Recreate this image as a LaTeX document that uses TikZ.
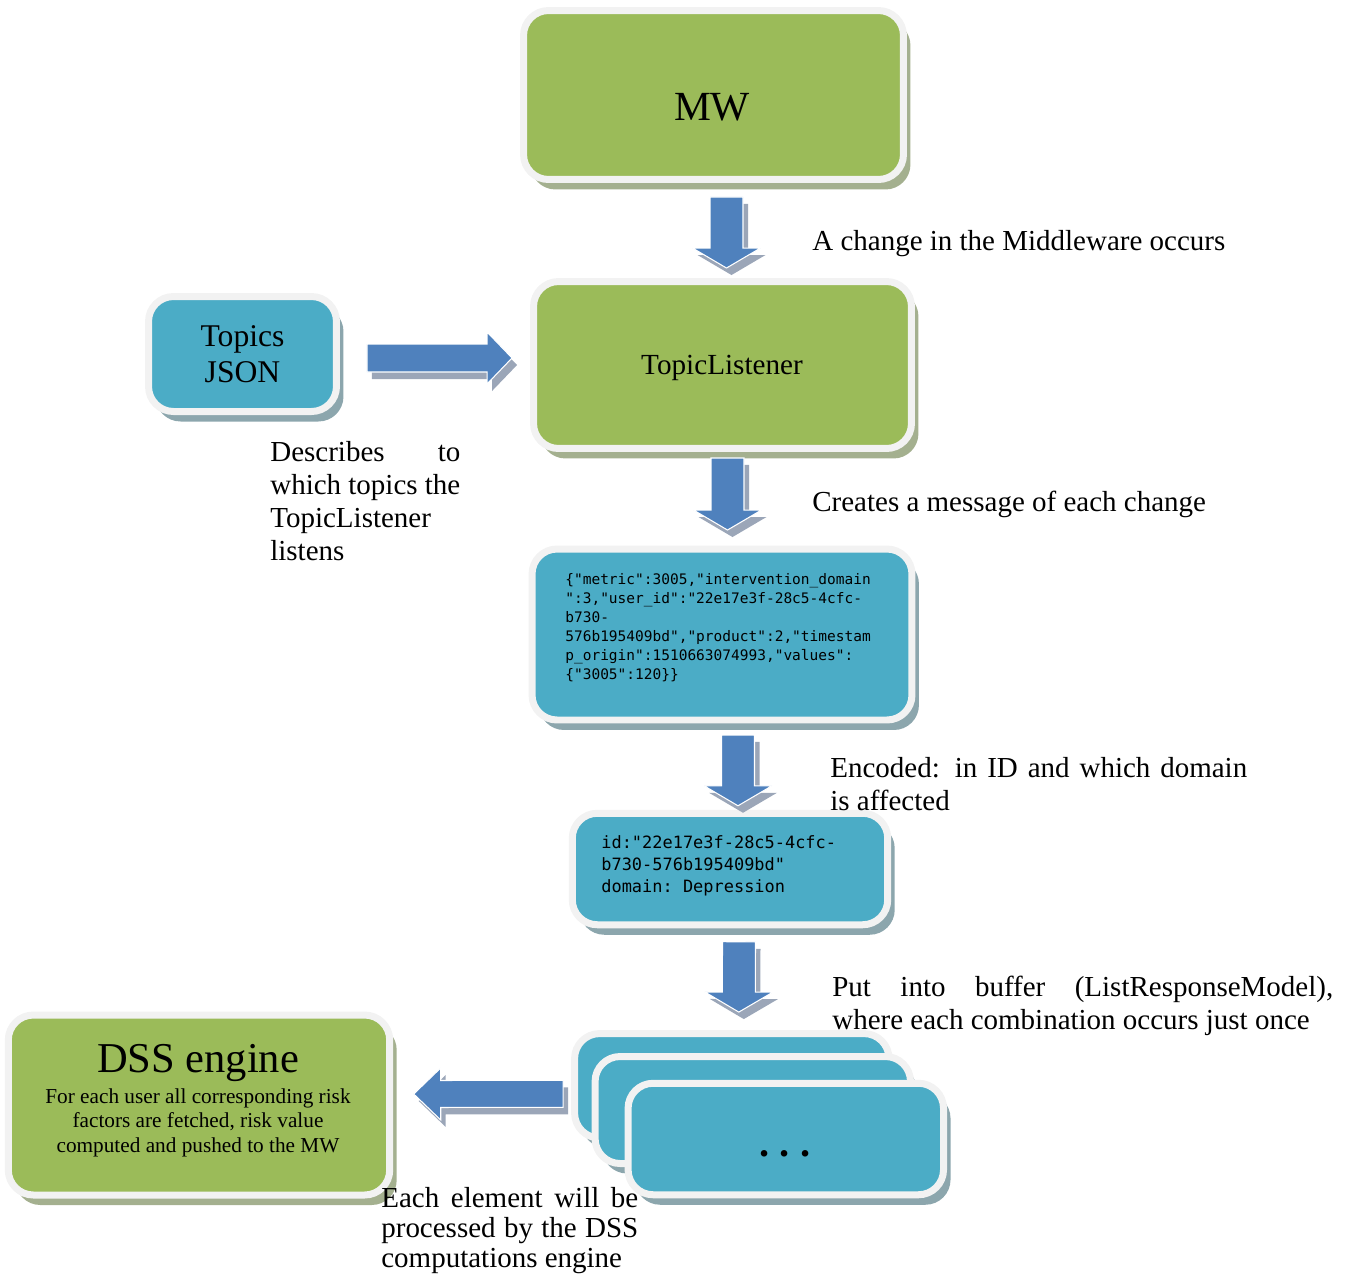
\documentclass[tikz,border=0pt]{standalone}
\usepackage{fontspec}
\setmainfont{Liberation Serif}
\setmonofont{DejaVu Sans Mono}
\usetikzlibrary{calc,shadows}

\definecolor{boxgreen}{HTML}{9BBB59}
\definecolor{boxblue}{HTML}{4BACC6}
\definecolor{arrowblue}{HTML}{4F81BD}
\definecolor{boxrim}{HTML}{F2F2F2}
\definecolor{greenshade}{RGB}{164,176,143}
\definecolor{blueshade}{RGB}{140,166,173}
\definecolor{arrowshade}{RGB}{155,166,184}

\begin{document}
\begin{tikzpicture}[x=0.02cm, y=-0.02cm,
	panel/.style={rounded corners=0.5cm, draw=boxrim, line width=0.14cm, inner sep=0pt, outer sep=0pt, drop shadow={shadow xshift=0.14cm, shadow yshift=-0.2cm, fill=#1, opacity=1}},
	greenpanel/.style={panel=greenshade, fill=boxgreen},
	bluepanel/.style={panel=blueshade, fill=boxblue},
	note/.style={inner sep=0pt, font=\fontsize{16.5}{18.8}\selectfont},
	notepar/.style={note, anchor=north west, align=justify, text width=#1},
	code/.style={inner sep=0pt, anchor=north west, align=left},
	blockarrow/.style args={#1/#2/#3}{fill=arrowblue, draw=white, line width=0.6pt, drop shadow={shadow xshift=0.1cm, shadow yshift=-0.14cm, fill=arrowshade, opacity=1},
		to path={($(\tikztotarget)!#3!(\tikztostart)$) coordinate (tip-base)
			($(\tikztostart)!#1!90:(\tikztotarget)$) -- ($(tip-base)!#1!90:(\tikztotarget)$) -- ($(tip-base)!#2!90:(\tikztotarget)$) -- (\tikztotarget)
			-- ($(tip-base)!#2!-90:(\tikztotarget)$) -- ($(tip-base)!#1!-90:(\tikztotarget)$) -- ($(\tikztostart)!#1!-90:(\tikztotarget)$) -- cycle}}]
	\useasboundingbox (0,0) rectangle (1349,1276);
	\node[greenpanel, minimum width=7.6cm, minimum height=3.38cm] (mw) at (713.5,95) {};
	\node[font=\fontsize{23.6}{28}\selectfont] (mwtitle) at (712,107) {MW};
	\node[greenpanel, minimum width=7.56cm, minimum height=3.34cm, font=\fontsize{16.6}{19}\selectfont] (tl) at (722.5,365) {};
	\node[font=\fontsize{16.6}{19}\selectfont] (tltitle) at (722,368) {TopicListener};
	\node[bluepanel, minimum width=3.76cm, minimum height=2.3cm, align=center, font=\fontsize{18}{20.5}\selectfont] (topics) at (242.5,354) {Topics\\JSON};
	\node[bluepanel, minimum width=7.6cm, minimum height=3.42cm] (json) at (722,634.5) {};
	\node[code, font=\fontsize{8.25}{10.8}\selectfont\ttfamily] (jsontext) at (565,573) {\{"metric":3005,"intervention\_domain\\":3,"user\_id":"22e17e3f-28c5-4cfc-\\b730-\\576b195409bd","product":2,"timestam\\p\_origin":1510663074993,"values":\\\{"3005":120\}\}};
	\node[bluepanel, minimum width=6.31cm, minimum height=2.23cm] (idbox) at (730,869) {};
	\node[code, font=\fontsize{9.65}{12.5}\selectfont\ttfamily] (idtext) at (601,835) {id:"22e17e3f-28c5-4cfc-\\b730-576b195409bd"\\domain: Depression};
	\node[bluepanel, minimum width=6.29cm, minimum height=2.09cm] (buf1) at (731.8,1085.8) {};
	\node[bluepanel, minimum width=6.31cm, minimum height=2.14cm] (buf2) at (752.8,1110) {};
	\node[bluepanel, minimum width=6.31cm, minimum height=2.23cm] (buf3) at (785.8,1139) {};
	\node[font=\fontsize{23}{28}\selectfont\bfseries\frenchspacing, anchor=base] (dots) at (785,1156) {. . .};
	\node[greenpanel, minimum width=7.63cm, minimum height=3.6cm] (dss) at (199,1105) {};
	\node[font=\fontsize{24.2}{29}\selectfont] (dsstitle) at (198,1063) {DSS engine};
	\node[align=center, font=\fontsize{12.1}{14}\selectfont] (dssnote) at (198,1122.5) {For each user all corresponding risk\\factors are fetched, risk value\\computed and pushed to the MW};
	\path[blockarrow=0.33cm/0.68cm/0.4cm] ([shift={(13,17.5)}]mw.south) to ([shift={(4,-13.5)}]tl.north);
	\path[blockarrow=0.33cm/0.68cm/0.4cm] ([shift={(5,9.5)}]tl.south) to ([shift={(5.5,-19)}]json.north);
	\path[blockarrow=0.33cm/0.68cm/0.4cm] ([shift={(16,15)}]json.south) to ([shift={(8,-7.5)}]idbox.north);
	\path[blockarrow=0.33cm/0.68cm/0.4cm] ([shift={(9,17)}]idbox.south) to ([shift={(7,-21.5)}]buf1.north);
	\path[blockarrow=0.28cm/0.52cm/0.5cm] ([shift={(30.5,4)}]topics.east) to ([shift={(-21.5,-7)}]tl.west);
	\path[blockarrow=0.27cm/0.52cm/0.54cm] ([shift={(-11.5,8)}]buf1.west) to ([shift={(24,-11)}]dss.east);
	\node[note, anchor=base west] (changenote) at (812,250) {A change in the Middleware occurs};
	\node[note, anchor=base west] (messagenote) at (812,511) {Creates a message of each change};
	\node[notepar=3.8cm] (topicsnote) at (270,441) {\spaceskip=.25em plus .6em minus .25em\relax Describes to\linebreak which topics the\linebreak TopicListener\newline listens};
	\node[notepar=8.34cm] (encodenote) at (830,757) {Encoded: in ID and which domain\linebreak is affected};
	\node[notepar=10.02cm] (buffernote) at (832,976) {Put into buffer (ListResponseModel),\linebreak where each combination occurs just once};
	\node[notepar=5.14cm, font=\fontsize{16.5}{17}\selectfont] (enginenote) at (381,1187) {Each element will be\linebreak processed by the DSS\linebreak computations engine};
\end{tikzpicture}
\end{document}
